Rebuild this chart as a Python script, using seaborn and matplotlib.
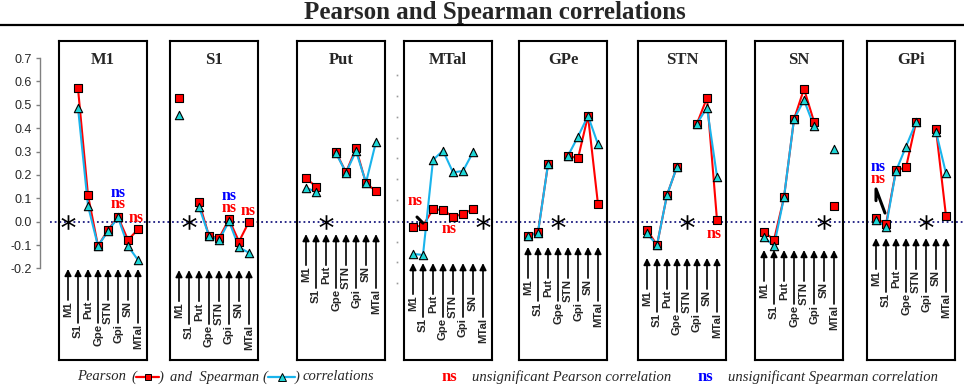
import numpy as np
import pandas as pd
import matplotlib
matplotlib.use("Agg")
import matplotlib.pyplot as plt
import seaborn as sns
from matplotlib.lines import Line2D

sns.set_style("white")
plt.rcParams["font.family"] = ["Liberation Sans", "DejaVu Sans"]

nan = np.nan
regions = ["M1", "S1", "Put", "Gpe", "STN", "Gpi", "SN", "MTal"]
panels = ["M1", "S1", "Put", "MTal", "GPe", "STN", "SN", "GPi"]
self_idx = [0, 1, 2, 7, 3, 4, 6, 5]

pearson_M1 = [nan, 0.57, 0.113, -0.104, -0.035, 0.02, -0.078, -0.033]
pearson_S1 = [0.53, nan, 0.083, -0.061, -0.071, 0.01, -0.085, 0.0]
pearson_Put = [0.186, 0.15, nan, 0.297, 0.211, 0.314, 0.164, 0.131]
pearson_MTal = [-0.021, -0.017, 0.053, 0.05, 0.021, 0.033, 0.054, nan]
pearson_GPe = [-0.06, -0.045, 0.245, nan, 0.282, 0.271, 0.453, 0.074]
pearson_STN = [-0.035, -0.1, 0.114, 0.235, nan, 0.42, 0.53, 0.007]
pearson_SN = [-0.043, -0.078, 0.104, 0.438, 0.568, 0.428, nan, 0.067]
pearson_GPi = [0.017, -0.011, 0.22, 0.232, 0.425, nan, 0.395, 0.024]

spearman_M1 = [nan, 0.488, 0.068, -0.104, -0.04, 0.018, -0.104, -0.164]
spearman_S1 = [0.456, nan, 0.064, -0.06, -0.08, 0.002, -0.11, -0.133]
spearman_Put = [0.145, 0.128, nan, 0.293, 0.21, 0.302, 0.167, 0.342]
spearman_MTal = [-0.138, -0.142, 0.264, 0.304, 0.211, 0.217, 0.297, nan]
spearman_GPe = [-0.062, -0.047, 0.245, nan, 0.282, 0.364, 0.453, 0.331]
spearman_STN = [-0.05, -0.1, 0.114, 0.235, nan, 0.42, 0.488, 0.193]
spearman_SN = [-0.067, -0.104, 0.104, 0.438, 0.52, 0.409, nan, 0.31]
spearman_GPi = [0.007, -0.021, 0.217, 0.321, 0.425, nan, 0.385, 0.207]

P = {"M1": pearson_M1, "S1": pearson_S1, "Put": pearson_Put, "MTal": pearson_MTal,
     "GPe": pearson_GPe, "STN": pearson_STN, "SN": pearson_SN, "GPi": pearson_GPi}
S = {"M1": spearman_M1, "S1": spearman_S1, "Put": spearman_Put, "MTal": spearman_MTal,
     "GPe": spearman_GPe, "STN": spearman_STN, "SN": spearman_SN, "GPi": spearman_GPi}

# "ns" annotations: panel, x position, baseline y, color
ns_panel = ["M1", "M1", "M1", "S1", "S1", "S1", "MTal", "MTal", "STN", "GPi", "GPi"]
ns_x = [5.0, 5.0, 6.8, 5.0, 5.0, 6.9, 0.2, 3.6, 6.7, 0.2, 0.2]
ns_y = [0.107, 0.057, -0.001, 0.093, 0.043, 0.029, 0.071, -0.05, -0.07, 0.218, 0.167]
ns_c = ["blue", "red", "red", "blue", "red", "red", "red", "red", "red", "blue", "red"]

yticks = [0.7, 0.6, 0.5, 0.4, 0.3, 0.2, 0.1, 0.0, -0.1, -0.2]

# layout
W, H = 964, 387
Y0, PXU = 221.7, 233.8
top_px, bot_px = 41, 360
ylim = ((Y0 - bot_px) / PXU, (Y0 - top_px) / PXU)
fb = 1 - bot_px / H
fh = (bot_px - top_px) / H
panel_left = [59, 170, 297, 404, 519, 638, 755, 867]
panel_w = 88
arrow_top = [-0.202, -0.207, -0.053, -0.177, -0.108, -0.155, -0.121, -0.07]

RED = "#FF0000"
CYL = "#19B4EC"
CYF = "#1ED6D6"
NAVY = "#1a1a80"
BLUE = "#0000FF"

fig = plt.figure(figsize=(W / 100, H / 100), dpi=100)

# title + rule
fig.text(495 / W, 1 - 13 / H, "Pearson and Spearman correlations", ha="center", va="center",
         fontsize=18, fontweight="bold", family="Liberation Serif")
fig.add_artist(Line2D([0, 1], [1 - 25 / H] * 2, transform=fig.transFigure, color="black", lw=1.6))

# background axis with y scale and zero line
bg = fig.add_axes([0, fb, 1, fh])
bg.set_xlim(0, W)
bg.set_ylim(*ylim)
bg.patch.set_alpha(0)
for s in ["top", "right", "bottom"]:
    bg.spines[s].set_visible(False)
bg.spines["left"].set_position(("data", 40))
bg.spines["left"].set_bounds(-0.2, 0.7)
bg.spines["left"].set_color("#808080")
bg.spines["left"].set_linewidth(1.0)
bg.set_xticks([])
bg.set_yticks(yticks)
bg.set_yticklabels([f"{v:.1f}" for v in yticks])
bg.tick_params(axis="y", length=3, width=1, color="#808080", labelsize=9, pad=3, left=True)
bg.axhline(0, xmin=50 / W, xmax=1, color=NAVY, lw=1.3, ls=(0, (1, 1.6)), zorder=1)

for k, name in enumerate(panels):
    ax = fig.add_axes([panel_left[k] / W, fb, panel_w / W, fh])
    ax.patch.set_alpha(0)
    df = pd.DataFrame({"pos": np.arange(8), "pearson": P[name], "spearman": S[name]})
    df["seg"] = df["pearson"].isna().cumsum()
    d = df.dropna()
    sns.lineplot(data=d, x="pos", y="pearson", units="seg", estimator=None, color=RED,
                 lw=1.5, ax=ax, legend=False, zorder=3, sort=False)
    sns.lineplot(data=d, x="pos", y="spearman", units="seg", estimator=None, color=CYL,
                 lw=1.5, ax=ax, legend=False, zorder=4, sort=False)
    sns.scatterplot(data=d, x="pos", y="pearson", marker="s", s=28, color=RED,
                    edgecolor="black", linewidth=0.8, ax=ax, zorder=5, legend=False)
    sns.scatterplot(data=d, x="pos", y="spearman", marker="^", s=36, color=CYF,
                    edgecolor="black", linewidth=0.8, ax=ax, zorder=6, legend=False)
    sns.scatterplot(x=[self_idx[k]], y=[0.0], marker="$*$", s=110, color="black",
                    linewidth=0, ax=ax, zorder=6, legend=False)
    ax.set_xlim(-0.9, 7.9)
    ax.set_ylim(*ylim)
    ax.set_xticks([])
    ax.set_yticks([])
    ax.set_xlabel("")
    ax.set_ylabel("")
    for s in ax.spines.values():
        s.set_visible(True)
        s.set_linewidth(1.5)
        s.set_color("black")
    ax.text(0.5, 1 - 19 / (bot_px - top_px), name, transform=ax.transAxes, ha="center",
            va="center", fontsize=12, fontweight="bold", family="Liberation Serif")
    t = arrow_top[k]
    for i, lab in enumerate(regions):
        L = 0.133 if i % 2 == 0 else 0.231
        ax.annotate("", xy=(i, t), xytext=(i, t - L),
                    arrowprops=dict(arrowstyle="-|>", color="black", lw=1.2,
                                    mutation_scale=10, shrinkA=0, shrinkB=0))
        ax.text(i, t - L - 0.004, lab, rotation=90, ha="center", va="top",
                fontsize=8.2, fontweight="bold", family="Liberation Sans")
    for pn, x, y, c in zip(ns_panel, ns_x, ns_y, ns_c):
        if pn == name:
            ax.text(x, y, "ns", ha="center", va="baseline", fontsize=11.5, fontweight="bold",
                    family="Liberation Serif", color=RED if c == "red" else BLUE, zorder=7)
    if name == "MTal":
        ax.plot([0.4, 1.0], [0.02, -0.006], color="black", lw=2.2, zorder=7)
        ax.plot(np.full(11, -1.6), np.linspace(0.627, -0.263, 11), ls="none", marker="s",
                ms=1.2, color="#9a9a9a", mew=0, clip_on=False)
    if name == "GPi":
        ax.plot([0.0, 0.0, 0.9], [0.09, 0.14, 0.037], color="black", lw=2.2, zorder=7)

# bottom legend row
ly = 1 - 377 / H


def ftext(xp, s, **kw):
    base = dict(ha="left", va="center", family="Liberation Serif", fontsize=10.5, style="italic")
    base.update(kw)
    fig.text(xp / W, ly, s, **base)


ftext(77, "Pearson")
ftext(131, "(")
fig.add_artist(Line2D([136 / W, 159 / W], [ly, ly], transform=fig.transFigure, color=RED, lw=1.6))
fig.add_artist(Line2D([147.5 / W], [ly], transform=fig.transFigure, color=RED, marker="s", ms=5,
                      mec="black", mew=0.7, ls="none"))
ftext(159, ")")
ftext(170, "and  Spearman")
ftext(262, "(")
fig.add_artist(Line2D([268 / W, 295 / W], [ly, ly], transform=fig.transFigure, color=CYL, lw=1.6))
fig.add_artist(Line2D([282 / W], [ly], transform=fig.transFigure, color=CYF, marker="^", ms=6,
                      mec="black", mew=0.7, ls="none"))
ftext(295, ")")
ftext(303, "correlations")
ftext(442, "ns", style="normal", fontweight="bold", fontsize=12, color=RED)
ftext(472, "unsignificant Pearson correlation")
ftext(697, "ns", style="normal", fontweight="bold", fontsize=12, color=BLUE)
ftext(728, "unsignificant Spearman correlation")

fig.savefig("out.png", dpi=100)
